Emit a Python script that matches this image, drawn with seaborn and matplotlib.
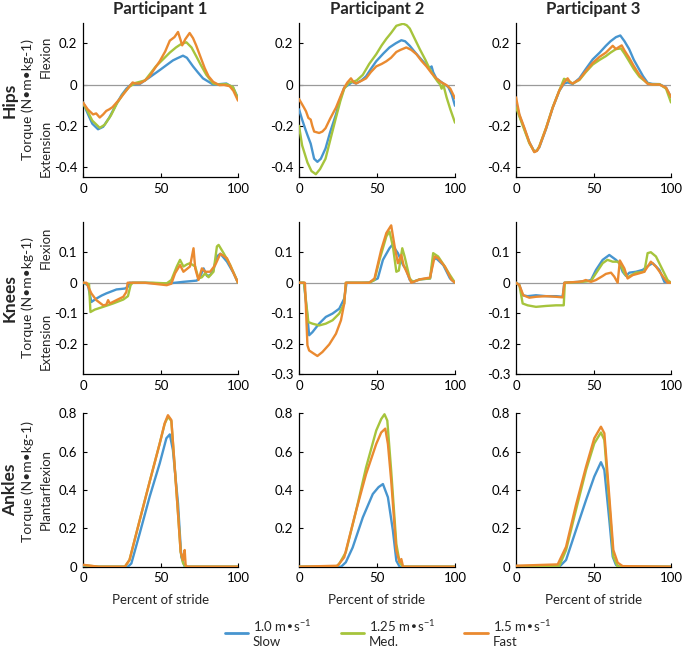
import matplotlib
matplotlib.use("Agg")
import matplotlib.pyplot as plt
import seaborn as sns
import pandas as pd
from matplotlib.lines import Line2D

# ---------------- data (percent of stride, torque N·m·kg-1) ----------------
joints = ["Hips", "Knees", "Ankles"]
participants = ["Participant 1", "Participant 2", "Participant 3"]
speeds = ["1.0 m•s$^{-1}$\nSlow", "1.25 m•s$^{-1}$\nMed.", "1.5 m•s$^{-1}$\nFast"]
speed_colors = ["#4795cf", "#a6c43c", "#ea8a30"]

# Hips
hip_p1_slow = [(0,-0.087),(3,-0.14),(6,-0.19),(9.7,-0.217),(13,-0.205),(17,-0.16),(21.5,-0.095),(25,-0.05),(28,-0.02),(31,0),(36.5,0.002),(42,0.03),(49.5,0.07),(54,0.095),(58,0.117),(61,0.128),(64.5,0.14),(67,0.13),(71,0.088),(74,0.06),(77.4,0.03),(84,0),(88,0.002),(92.5,0.005),(96.8,-0.015),(100,-0.065)]
hip_p1_med = [(0,-0.09),(3,-0.13),(6,-0.175),(10.8,-0.21),(14,-0.195),(18,-0.15),(22,-0.09),(26,-0.045),(30,-0.01),(34,0.008),(40,0.02),(47,0.088),(52,0.125),(56,0.155),(60,0.18),(63,0.195),(66.7,0.205),(70,0.18),(73,0.138),(76,0.095),(79.6,0.047),(84,0.005),(88,0.0),(92.5,0.002),(96.8,-0.012),(100,-0.07)]
hip_p1_fast = [(0,-0.087),(3,-0.12),(6.5,-0.145),(8.5,-0.14),(10.8,-0.16),(13,-0.145),(15,-0.128),(17,-0.12),(19,-0.11),(23.7,-0.07),(28,-0.028),(32,0.01),(34,0.005),(36.5,0.005),(40,0.02),(43,0.04),(46,0.075),(49.5,0.113),(53,0.16),(56,0.213),(59,0.23),(61.3,0.255),(63,0.215),(64,0.19),(66,0.22),(68.8,0.25),(71,0.225),(73,0.19),(75.5,0.14),(78.5,0.08),(81,0.04),(84,0.013),(88,-0.003),(91,-0.002),(94.6,-0.008),(97,-0.03),(100,-0.078)]
hip_p2_slow = [(0,-0.12),(2,-0.17),(4,-0.215),(5.4,-0.245),(7.5,-0.287),(9.7,-0.36),(11.8,-0.375),(14,-0.36),(17,-0.31),(20,-0.23),(23.7,-0.145),(26,-0.08),(29,-0.015),(32,0),(34,0.012),(36.6,0.005),(40,0.02),(43,0.04),(46,0.075),(49.5,0.113),(54,0.15),(58,0.18),(62,0.2),(65.6,0.215),(68,0.21),(71,0.188),(74,0.16),(77.4,0.13),(81,0.1),(84,0.08),(85,0.088),(86,0.06),(88,0.03),(92.5,0.005),(95.7,-0.012),(98,-0.05),(100,-0.103)]
hip_p2_med = [(0,-0.2),(2,-0.295),(5.4,-0.378),(8,-0.42),(10.8,-0.435),(13.5,-0.41),(17,-0.36),(20,-0.27),(23.7,-0.16),(26.5,-0.08),(29,-0.02),(32,0.01),(34.4,0.013),(37,0.02),(40.9,0.047),(45,0.1),(49.5,0.147),(53,0.19),(56,0.222),(59,0.25),(62.4,0.285),(64.5,0.29),(66.7,0.295),(69,0.288),(71,0.272),(74,0.225),(77.4,0.172),(81,0.12),(84,0.072),(86.5,0.04),(89,0.013),(90.5,0.0),(91.4,-0.02),(92.5,0.0),(94.6,-0.062),(97,-0.12),(100,-0.185)]
hip_p2_fast = [(0,-0.07),(3.2,-0.112),(4.5,-0.13),(6,-0.162),(7.5,-0.17),(8.5,-0.2),(9.7,-0.228),(12.9,-0.235),(15,-0.228),(17,-0.212),(20,-0.165),(23.7,-0.112),(26.5,-0.06),(29,-0.015),(31,0.01),(33.3,0.03),(35,0.012),(36.6,0.005),(40,0.018),(43,0.03),(46,0.06),(49.5,0.088),(53,0.1),(56,0.113),(59,0.13),(62.4,0.158),(65,0.168),(68.8,0.18),(72,0.168),(75.3,0.147),(78.5,0.115),(81.7,0.088),(85,0.055),(88,0.03),(91,0.012),(94.6,-0.003),(97,-0.02),(100,-0.067)]
hip_p3_slow = [(0,-0.087),(2.2,-0.15),(5.4,-0.215),(8.6,-0.28),(11.8,-0.325),(13.5,-0.32),(15,-0.305),(19.4,-0.215),(23.7,-0.112),(28,-0.03),(31,0.005),(33.3,0.01),(36.6,0.003),(40.9,0.03),(45,0.075),(49.5,0.122),(54,0.155),(58,0.188),(61,0.21),(64.5,0.23),(67.3,0.238),(70,0.21),(73,0.172),(76,0.12),(79.6,0.072),(82,0.04),(85,0.008),(88,0.003),(92.5,0.002),(96.8,-0.015),(100,-0.062)]
hip_p3_med = [(0,-0.11),(2.2,-0.155),(5.4,-0.22),(8.6,-0.285),(11.8,-0.325),(13.5,-0.32),(15,-0.3),(19.4,-0.21),(23.7,-0.11),(28,-0.028),(31,0.028),(33.3,0.02),(36.6,0.005),(40.9,0.022),(45,0.06),(49.5,0.097),(54,0.12),(58,0.138),(61,0.155),(64.5,0.172),(67.7,0.175),(70,0.15),(73,0.113),(76,0.075),(79.6,0.038),(85,0.005),(88,0.0),(92.5,0.002),(96.8,-0.02),(100,-0.087)]
hip_p3_fast = [(0,-0.062),(2.2,-0.145),(5.4,-0.21),(8.6,-0.28),(11.8,-0.328),(13.5,-0.322),(15,-0.303),(19.4,-0.212),(23.7,-0.112),(28,-0.028),(31,0.01),(33.3,0.03),(35,0.01),(36.6,0.005),(40.9,0.025),(45,0.065),(49.5,0.105),(54,0.135),(58,0.155),(60,0.17),(62.4,0.188),(64.5,0.172),(66,0.18),(68.2,0.19),(70,0.165),(73,0.13),(76,0.09),(79.6,0.047),(85,0.003),(88,0.0),(92.5,0.0),(96.8,-0.015),(100,-0.06)]

# Knees
knee_p1_slow = [(0,0),(3.2,-0.008),(5.4,-0.063),(8.6,-0.052),(12,-0.042),(15,-0.035),(21.6,-0.022),(27,-0.019),(29,-0.013),(30,0),(40,0),(54,-0.003),(64.8,0.003),(73.4,0.007),(75.6,0.02),(77.8,0.047),(80,0.022),(82,0.025),(84,0.04),(86.4,0.086),(88.6,0.095),(92.9,0.069),(97.2,0.031),(100,0)]
knee_p1_med = [(0,0),(3.9,-0.004),(4.8,-0.096),(7.6,-0.088),(13,-0.079),(19.4,-0.068),(26,-0.055),(29,-0.044),(30.7,-0.008),(32,0),(45,0),(54,-0.002),(57,0.009),(60.5,0.053),(62.6,0.075),(64.8,0.053),(67,0.06),(69,0.064),(72.4,0.053),(74.5,0.014),(76.7,0.018),(78.8,0.031),(81,0.018),(84.2,0.036),(86.4,0.119),(87.5,0.124),(90.7,0.097),(95,0.058),(100,0)]
knee_p1_fast = [(0,0),(2.2,0),(5.4,-0.035),(8.6,-0.057),(13,-0.074),(15,-0.072),(16.2,-0.057),(17.3,-0.068),(21.6,-0.057),(26,-0.046),(28,-0.03),(28.8,0),(40,0),(54,-0.008),(57,-0.003),(59.4,0.031),(62.6,0.058),(64.8,0.036),(69,0.053),(71.3,0.113),(72.4,0.047),(74.5,0.009),(76.7,0.047),(78.8,0.036),(82,0.036),(85.3,0.058),(88.6,0.095),(92.9,0.08),(97.2,0.031),(100,0)]
knee_p2_slow = [(0,0),(3.2,0),(5.4,-0.112),(6.5,-0.172),(8.6,-0.162),(12.9,-0.134),(17.2,-0.112),(21.5,-0.101),(25.8,-0.085),(29,-0.052),(30.5,0),(40,0),(45,0.001),(50.5,0.014),(53.8,0.075),(58,0.113),(59.8,0.124),(63.4,0.097),(66.7,0.058),(68.8,0.042),(71,0.009),(73,0.003),(77.4,0.011),(84,0.014),(86,0.075),(88,0.08),(92.5,0.058),(96.8,0.014),(100,0)]
knee_p2_med = [(0,0),(3.2,0),(6,-0.129),(8.6,-0.134),(12.9,-0.14),(17.2,-0.134),(21.5,-0.123),(25.8,-0.101),(29,-0.068),(30,0),(40,0),(45,0),(48.4,0.009),(51.6,0.075),(56,0.152),(58,0.168),(60.2,0.119),(62.4,0.036),(64,0.04),(66.2,0.113),(67.7,0.086),(71,0.014),(73,0.003),(77.4,0.011),(84,0.014),(86,0.097),(89.2,0.086),(93.5,0.053),(96.8,0.025),(100,0)]
knee_p2_fast = [(0,0),(3.8,0),(5.4,-0.205),(6.5,-0.222),(9.7,-0.233),(11.8,-0.24),(15,-0.227),(19.4,-0.202),(23.7,-0.167),(26.9,-0.123),(29,-0.068),(30,0),(40,0),(45,0),(48.4,0.014),(52.7,0.108),(56,0.163),(59.1,0.188),(61.3,0.119),(63.4,0.064),(65.6,0.091),(67,0.058),(69.9,0.025),(72,0),(77.4,0.011),(84,0.017),(87,0.086),(89.2,0.08),(93.5,0.053),(97.8,0.009),(100,0)]
knee_p3_slow = [(0,0),(2.2,-0.008),(4.3,-0.041),(7.5,-0.044),(12.9,-0.041),(19.4,-0.044),(25.8,-0.044),(30.1,-0.046),(31.2,0),(40.9,0.003),(46.2,0.006),(48.4,0.009),(51.6,0.042),(55.9,0.075),(60.2,0.091),(64.5,0.075),(66.7,0.064),(68.8,0.036),(71,0.022),(73.1,0.033),(77.4,0.036),(81.7,0.042),(86,0.058),(88.2,0.064),(92.5,0.042),(95.7,0.003),(100,0)]
knee_p3_med = [(0,0),(2.2,-0.008),(4.3,-0.068),(7.5,-0.074),(12.9,-0.079),(19.4,-0.076),(25.8,-0.074),(30.8,-0.074),(31.5,0),(40,0.002),(48.4,0.006),(51.6,0.031),(55.9,0.064),(59,0.075),(62.4,0.069),(65.6,0.069),(67.7,0.058),(69.9,0.031),(72,0.018),(77.4,0.033),(82.8,0.036),(84.9,0.097),(87,0.1),(90.3,0.086),(94.6,0.042),(97.8,0.009),(100,0)]
knee_p3_fast = [(0,0),(2.2,-0.008),(4.7,-0.041),(8.6,-0.049),(12.9,-0.046),(19.4,-0.044),(25.8,-0.046),(30.1,-0.048),(31.2,0),(40,0.003),(43,0.005),(45,0.009),(48.4,0.003),(51.6,0.009),(55.9,0.022),(58,0.029),(61.3,0.033),(63.4,0.02),(65.6,0.0),(67,0.073),(69.9,0.047),(72,0.014),(75.3,0.025),(79.6,0.031),(82.8,0.036),(87,0.069),(90.3,0.053),(94.6,0.022),(97.8,0),(100,0)]

# Ankles
ankle_p1_slow = [(0,0.005),(10,0),(29,0),(31.2,0.017),(36.6,0.174),(43,0.365),(49.5,0.539),(53.8,0.67),(56,0.69),(58,0.609),(61.3,0.33),(63.4,0.052),(65.6,0),(80,0),(100,0)]
ankle_p1_med = [(0,0.008),(10,0),(27,0),(30,0.035),(36.6,0.243),(43,0.443),(49.5,0.643),(52.7,0.745),(54.8,0.782),(57,0.76),(59,0.539),(61.3,0.278),(63,0.078),(64.5,0.02),(66,0),(80,0),(100,0)]
ankle_p1_fast = [(0,0.01),(10,0),(27,0),(30,0.035),(36.6,0.243),(43,0.443),(49.5,0.643),(52.7,0.748),(54.8,0.79),(57,0.765),(59,0.539),(61.3,0.278),(63,0.078),(64.5,0.035),(65.6,0.087),(66.2,0.01),(67,0),(80,0),(100,0)]
ankle_p2_slow = [(0,0),(27,0),(30,0.023),(34.4,0.1),(40.9,0.257),(47.3,0.379),(51,0.415),(53.8,0.431),(57,0.362),(60.2,0.188),(62.4,0.031),(64.5,0),(100,0)]
ankle_p2_med = [(0,0),(23.7,0),(25.8,0.015),(30,0.075),(36.6,0.292),(43,0.518),(49.5,0.71),(52.7,0.77),(54.8,0.795),(56.6,0.762),(59.1,0.5),(62.4,0.118),(64.5,0.023),(66.7,0),(100,0)]
ankle_p2_fast = [(0,0),(24.7,0.005),(29,0.049),(36.6,0.292),(43,0.483),(49.5,0.64),(52.7,0.7),(55.3,0.72),(57,0.64),(59.1,0.449),(62.4,0.083),(64.5,0.023),(65.6,0.04),(66.7,0),(100,0)]
ankle_p3_slow = [(0,0.003),(28,0),(32.3,0.035),(38.7,0.191),(45.2,0.348),(50.5,0.47),(54.8,0.545),(57,0.504),(60.2,0.243),(62.4,0.052),(64.5,0.009),(66.7,0),(100,0)]
ankle_p3_med = [(0,0.003),(28,0.005),(32.3,0.087),(38.7,0.296),(45.2,0.504),(50.5,0.643),(54.8,0.7),(57,0.661),(60.2,0.33),(62.8,0.052),(65.6,0),(100,0)]
ankle_p3_fast = [(0,0.005),(26.9,0.012),(32.3,0.104),(38.7,0.322),(45.2,0.522),(50.5,0.67),(54.8,0.73),(57,0.696),(60.2,0.365),(62.8,0.087),(65.6,0.021),(68.8,0.003),(100,0)]

series = {
    (0, 0): [hip_p1_slow, hip_p1_med, hip_p1_fast],
    (0, 1): [hip_p2_slow, hip_p2_med, hip_p2_fast],
    (0, 2): [hip_p3_slow, hip_p3_med, hip_p3_fast],
    (1, 0): [knee_p1_slow, knee_p1_med, knee_p1_fast],
    (1, 1): [knee_p2_slow, knee_p2_med, knee_p2_fast],
    (1, 2): [knee_p3_slow, knee_p3_med, knee_p3_fast],
    (2, 0): [ankle_p1_slow, ankle_p1_med, ankle_p1_fast],
    (2, 1): [ankle_p2_slow, ankle_p2_med, ankle_p2_fast],
    (2, 2): [ankle_p3_slow, ankle_p3_med, ankle_p3_fast],
}

x_ticks = [0, 50, 100]
row_ylim = [(-0.45, 0.3), (-0.3, 0.2), (0, 0.8)]
y_ticks = {
    (0, 0): [-0.4, -0.2, 0, 0.2], (0, 1): [-0.4, -0.2, 0, 0.2], (0, 2): [-0.4, -0.2, 0, 0.2],
    (1, 0): [-0.2, -0.1, 0, 0.1], (1, 1): [-0.3, -0.2, -0.1, 0, 0.1], (1, 2): [-0.3, -0.2, -0.1, 0, 0.1],
    (2, 0): [0, 0.2, 0.4, 0.6, 0.8], (2, 1): [0.2, 0.4, 0.6, 0.8], (2, 2): [0, 0.2, 0.4, 0.6, 0.8],
}

def fmt(v):
    return "0" if v == 0 else ("%g" % v)

# ---------------- style ----------------
sns.set_theme(style="white")
FONT = ["Lato", "DejaVu Sans"]
plt.rcParams["font.family"] = FONT
plt.rcParams["mathtext.default"] = "regular"
plt.rcParams["axes.unicode_minus"] = False

W, H = 685, 647
fig = plt.figure(figsize=(W / 100, H / 100), dpi=100)

col_px = [(83, 238), (299, 455), (516, 671)]
row_px = [(22.7, 177.3), (221.7, 374.3), (413.3, 566.7)]

for r in range(3):
    for c in range(3):
        x0, x1 = col_px[c]
        yt, yb = row_px[r]
        ax = fig.add_axes([x0 / W, 1 - yb / H, (x1 - x0) / W, (yb - yt) / H])
        frames = []
        for s, pts in enumerate(series[(r, c)]):
            frames.append(pd.DataFrame({"x": [p[0] for p in pts],
                                        "y": [p[1] for p in pts],
                                        "speed": speeds[s]}))
        df = pd.concat(frames, ignore_index=True)
        if r < 2:
            ax.axhline(0, color="#9a9a9a", lw=0.9, zorder=1)
        sns.lineplot(data=df, x="x", y="y", hue="speed", hue_order=speeds,
                     palette=speed_colors, estimator=None, sort=False,
                     lw=1.7, legend=False, ax=ax, zorder=3)
        ax.set_xlim(0, 100)
        ax.set_ylim(*row_ylim[r])
        ax.set_xticks(x_ticks)
        ax.set_xticklabels([str(t) for t in x_ticks])
        yt_ = y_ticks[(r, c)]
        ax.set_yticks(yt_)
        ax.set_yticklabels([fmt(v) for v in yt_])
        for sp in ["top", "right"]:
            ax.spines[sp].set_visible(False)
        for sp in ["left", "bottom"]:
            ax.spines[sp].set_color("black")
            ax.spines[sp].set_linewidth(0.9)
        ax.tick_params(direction="in", length=3, width=0.8, colors="black",
                       labelsize=9.5, pad=4, left=True, bottom=True)
        ax.set_ylabel("")
        if r == 2:
            ax.set_xlabel("Percent of stride", fontsize=9.5, labelpad=7)
        else:
            ax.set_xlabel("")
        if r == 0:
            ax.set_title(participants[c], fontsize=12, fontweight="bold", pad=6)

def ftext(xp, yp, s, **kw):
    fig.text(xp / W, 1 - yp / H, s, rotation=90, ha="center", va="center", **kw)

row_centers = [100, 298, 490]
torque_centers = [99, 298, 481]
for r in range(3):
    ftext(10, row_centers[r], joints[r], fontsize=12.5, fontweight="bold")
    ftext(28, torque_centers[r], "Torque (N•m•kg-1)", fontsize=10)
ftext(46, 57, "Flexion", fontsize=9.5)
ftext(46, 148, "Extension", fontsize=9.5)
ftext(46, 248, "Flexion", fontsize=9.5)
ftext(46, 341, "Extension", fontsize=9.5)
ftext(46, 489, "Plantarflexion", fontsize=9.5)

handles = [Line2D([0], [0], color=col, lw=2) for col in speed_colors]
fig.legend(handles, speeds, loc="center", bbox_to_anchor=(388 / W, 1 - 633 / H),
           ncol=3, frameon=False, fontsize=9.5, handlelength=1.8,
           handletextpad=0.35, columnspacing=2.2)

fig.savefig("out.png", dpi=100)
